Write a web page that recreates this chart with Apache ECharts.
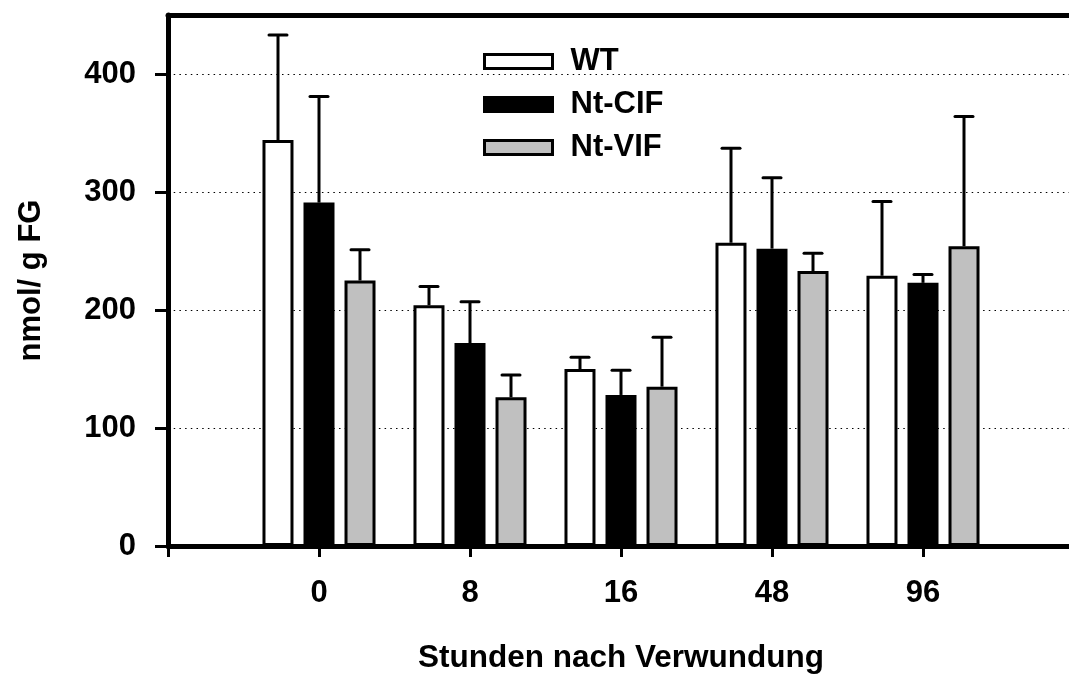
<!DOCTYPE html>
<html>
<head>
<meta charset="utf-8">
<script src="https://cdn.jsdelivr.net/npm/echarts@6/dist/echarts.min.js"></script>
<style>
html,body{margin:0;padding:0;background:#fff;}
#chart{width:1069px;height:675px;}
</style>
</head>
<body>
<div id="chart"></div>
<script>
// ---- data ----
const categories = ['0', '8', '16', '48', '96'];
const seriesNames = ['WT', 'Nt-CIF', 'Nt-VIF'];
const wtMean  = [344, 204, 150, 257, 229];
const wtSD    = [89, 16, 10, 80, 63];
const cifMean = [291, 172, 128, 252, 223];
const cifSD   = [90, 35, 21, 60, 7];
const vifMean = [225, 126, 135, 233, 254];
const vifSD   = [26, 19, 42, 15, 110];
const yTicks  = [0, 100, 200, 300, 400];

// ---- styling ----
const FONT = '"Liberation Sans", Arial, sans-serif';
const colors = ['#ffffff', '#000000', '#c0c0c0'];
const BAR_W = 31, BAR_GAP = 10;

// axis categories padded with empty slots at both ends
const axisCats = [''].concat(categories, ['']);
function pad(arr) { return [null].concat(arr, [null]); }

const means = [wtMean, cifMean, vifMean];
const sds = [wtSD, cifSD, vifSD];

const series = [];
means.forEach((m, k) => {
  series.push({
    name: seriesNames[k],
    type: 'bar',
    data: pad(m),
    barWidth: BAR_W,
    barGap: (BAR_GAP / BAR_W * 100).toFixed(1) + '%',
    itemStyle: { color: colors[k], borderColor: '#000', borderWidth: 3 },
    z: 2
  });
});
means.forEach((m, k) => {
  const off = (k - 1) * (BAR_W + BAR_GAP);
  series.push({
    type: 'custom',
    name: seriesNames[k] + ' SD',
    z: 5,
    silent: true,
    data: m.map((v, i) => [i + 1, v, v + sds[k][i]]),
    renderItem: function (params, api) {
      const top = api.coord([api.value(0), api.value(1)]);
      const hi = api.coord([api.value(0), api.value(2)]);
      const x = top[0] + off;
      return {
        type: 'group',
        children: [
          { type: 'line', shape: { x1: x, y1: top[1], x2: x, y2: hi[1] },
            style: { stroke: '#000', lineWidth: 3 } },
          { type: 'line', shape: { x1: x - 9, y1: hi[1], x2: x + 9, y2: hi[1] },
            style: { stroke: '#000', lineWidth: 3, lineCap: 'round' } }
        ]
      };
    }
  });
});

const chart = echarts.init(document.getElementById('chart'), null, { renderer: 'canvas' });
chart.setOption({
  animation: false,
  backgroundColor: '#fff',
  grid: { left: 168, top: 15, width: 906, height: 531, containLabel: false, outerBoundsMode: 'none' },
  legend: {
    data: seriesNames,
    orient: 'vertical',
    left: 483, top: 46,
    padding: 0,
    icon: 'rect',
    itemWidth: 68, itemHeight: 14,
    itemGap: 12,
    itemStyle: { borderColor: '#000', borderWidth: 3 },
    textStyle: { fontFamily: FONT, fontWeight: 'bold', fontSize: 31, color: '#000',
                 lineHeight: 30, padding: [0, 0, 0, 13] },
    selectedMode: false
  },
  xAxis: [{
    type: 'category',
    data: axisCats,
    boundaryGap: false,
    position: 'bottom',
    axisLine: { show: true, lineStyle: { color: '#000', width: 5 } },
    axisTick: { show: true, length: 11, lineStyle: { color: '#000', width: 3 } },
    axisLabel: { fontFamily: FONT, fontWeight: 'bold', fontSize: 31, color: '#000', margin: 32 },
    splitLine: { show: false },
    name: 'Stunden nach Verwundung',
    nameLocation: 'middle',
    nameGap: 96,
    nameTextStyle: { fontFamily: FONT, fontWeight: 'bold', fontSize: 31.5, color: '#000' }
  }, {
    type: 'category',
    data: axisCats,
    boundaryGap: false,
    position: 'top',
    axisLine: { show: true, lineStyle: { color: '#000', width: 5 } },
    axisTick: { show: false },
    axisLabel: { show: false },
    splitLine: { show: false }
  }],
  yAxis: {
    type: 'value',
    min: 0, max: 450, interval: 100,
    axisLine: { show: true, lineStyle: { color: '#000', width: 5 } },
    axisTick: { show: true, length: 13, lineStyle: { color: '#000', width: 3 }, customValues: yTicks },
    axisLabel: { fontFamily: FONT, fontWeight: 'bold', fontSize: 31, color: '#000', margin: 32, customValues: yTicks },
    splitLine: { show: true, lineStyle: { color: '#000', width: 1.2, type: [1.5, 4.2] } },
    name: 'nmol/ g FG',
    nameLocation: 'middle',
    nameGap: 121,
    nameRotate: 90,
    nameTextStyle: { fontFamily: FONT, fontWeight: 'bold', fontSize: 31, color: '#000' }
  },
  series: series
});
</script>
</body>
</html>
